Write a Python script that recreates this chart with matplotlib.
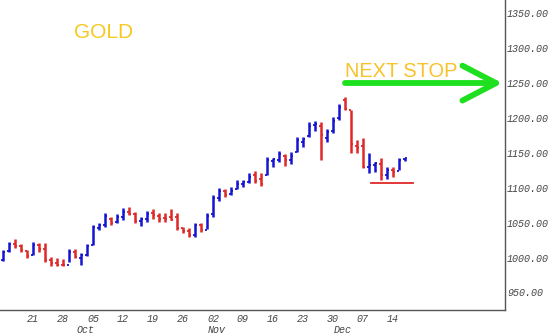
# -*- coding: utf-8 -*-
import numpy as np
import pandas as pd
import matplotlib
matplotlib.use("Agg")
import matplotlib.pyplot as plt
import matplotlib.transforms as mtransforms

# 日线数据 (黄金, 2009-09-14 起)
start_day = "2009-09-14"
prev_close = 990
opens = [997, 1009, 1020, 1016, 1009, 1003, 1018, 1012, 996, 992,
         990, 990, 1008, 1000, 1004, 1018, 1043, 1046, 1056, 1051,
         1058, 1066, 1062, 1052, 1055, 1064, 1060, 1057, 1058, 1058,
         1042, 1038, 1032, 1046, 1040, 1062, 1086, 1095, 1091, 1098,
         1105, 1108, 1118, 1112, 1118, 1138, 1140, 1146, 1140, 1152,
         1166, 1174, 1190, 1188, 1172, 1182, 1200, 1226, 1212, 1160,
         1160, 1130, 1132, 1134, 1118, 1126, 1124, 1141]
highs = [1011, 1022, 1027, 1019, 1011, 1022, 1021, 1021, 1001, 999,
         998, 1012, 1012, 1007, 1019, 1047, 1050, 1064, 1058, 1062,
         1071, 1072, 1065, 1058, 1067, 1070, 1064, 1064, 1070, 1064,
         1044, 1042, 1050, 1050, 1064, 1090, 1100, 1098, 1101, 1111,
         1111, 1121, 1124, 1121, 1144, 1143, 1153, 1148, 1151, 1173,
         1173, 1194, 1196, 1194, 1184, 1201, 1220, 1230, 1212, 1168,
         1171, 1150, 1137, 1142, 1130, 1130, 1143, 1143]
lows = [995, 1008, 1014, 1008, 999, 1004, 1008, 994, 988, 988,
        988, 994, 999, 989, 1002, 1018, 1040, 1044, 1046, 1049,
        1054, 1061, 1050, 1045, 1051, 1055, 1051, 1051, 1054, 1040,
        1035, 1030, 1030, 1037, 1041, 1058, 1081, 1087, 1090, 1098,
        1101, 1107, 1107, 1103, 1118, 1130, 1137, 1131, 1134, 1151,
        1158, 1173, 1181, 1140, 1166, 1178, 1197, 1211, 1150, 1150,
        1128, 1121, 1123, 1111, 1113, 1115, 1126, 1139]
closes = [1008, 1019, 1016, 1011, 1002, 1018, 1012, 996, 992, 990,
          989, 1008, 1001, 1004, 1016, 1044, 1046, 1060, 1050, 1058,
          1065, 1063, 1053, 1056, 1063, 1061, 1056, 1055, 1054, 1042,
          1038, 1033, 1046, 1040, 1060, 1085, 1096, 1090, 1096, 1106,
          1108, 1116, 1110, 1106, 1140, 1141, 1148, 1140, 1146, 1168,
          1170, 1189, 1192, 1176, 1180, 1196, 1216, 1213, 1163, 1157,
          1130, 1133, 1135, 1118, 1126, 1122, 1140, 1142]
support = 1107
target = 1250

df = pd.DataFrame({"open": opens, "high": highs, "low": lows, "close": closes})
df["date"] = pd.bdate_range(start_day, periods=len(df))
x = np.arange(len(df))
up = df["close"].values > np.r_[prev_close, df["close"].values[:-1]]
cols = np.where(up, "#1414d2", "#e02828")

fig = plt.figure(figsize=(5.5, 3.34), dpi=100)
ax = fig.add_axes([0, 24 / 334, 505 / 550, 310 / 334])

# 美式K线: 竖线 + 左开盘 + 右收盘
ax.vlines(x, df["low"], df["high"], colors=cols, linewidth=1.8)
ax.hlines(df["open"], x - 0.32, x, colors=cols, linewidth=1.3)
ax.hlines(df["close"], x, x + 0.32, colors=cols, linewidth=1.3)

# 支撑线
ax.plot([61.3, 68.3], [support, support], color="#e02828", linewidth=1.3)

# 绿色箭头
grn = "#1ee01e"
ax.plot([57.0, 82.2], [target, target], color=grn, linewidth=4.2,
        solid_capstyle="round")
ax.plot([76.6, 82.2, 76.6], [target + 25, target, target - 25], color=grn,
        linewidth=4.2, solid_capstyle="round", solid_joinstyle="round")

ax.text(57.0, target + 3, "NEXT STOP", color="#f7c22a", fontsize=14.4,
        family="Liberation Sans", ha="left", va="bottom")
fig.text(104 / 550, 1 - 32 / 334, "GOLD", color="#f7c81e", fontsize=15,
         family="Liberation Sans", ha="center", va="center")

ax.set_xlim(-0.5, 83.7)
ax.set_ylim(924.9, 1369.1)

for s in ["top", "left"]:
    ax.spines[s].set_visible(False)
for s in ["bottom", "right"]:
    ax.spines[s].set_color("#555555")
    ax.spines[s].set_linewidth(1.0)

ax.yaxis.tick_right()
ax.set_yticks(np.arange(950, 1351, 50))
ax.set_yticklabels(["%.2f" % v for v in np.arange(950, 1351, 50)])

mondays = [i for i in x if df["date"][i].weekday() == 0 and i >= 5]
ax.set_xticks(mondays)
ax.set_xticklabels([df["date"][i].strftime("%d") for i in mondays])
ax.tick_params(length=0, labelsize=7.2, labelcolor="#444444")
ax.tick_params(axis="y", pad=1.5)
ax.tick_params(axis="x", pad=3)
for lab in ax.get_xticklabels() + ax.get_yticklabels():
    lab.set_family("Liberation Mono")
    lab.set_style("italic")

# 月份标签
trans = mtransforms.blended_transform_factory(ax.transData, ax.transAxes)
first = df.groupby(df["date"].dt.month).head(1).index
for i in first:
    if i == 0:
        continue
    ax.text(i + 0.7, -20 / 310, df["date"][i].strftime("%b"), transform=trans,
            fontsize=7.2, family="Liberation Mono", style="italic",
            color="#444444", ha="center", va="center")

fig.savefig("out.png", dpi=100)
